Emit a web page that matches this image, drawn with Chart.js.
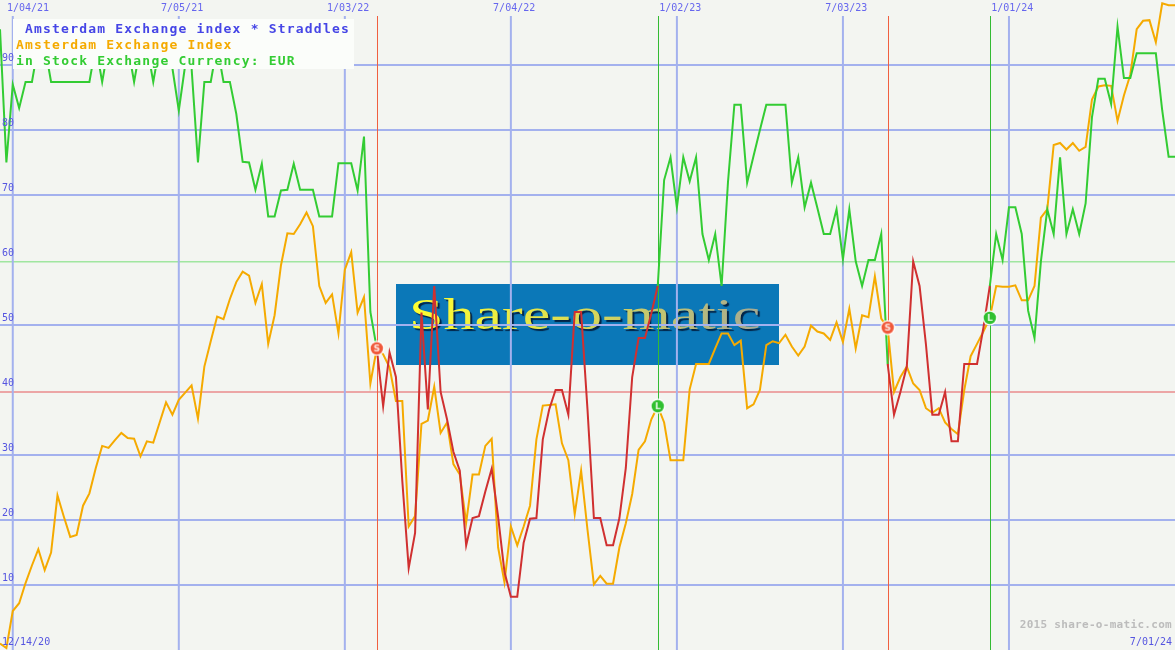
<!DOCTYPE html>
<html>
<head>
<meta charset="utf-8">
<script src="https://cdn.jsdelivr.net/npm/chart.js@4.4.1/dist/chart.umd.min.js"></script>
<style>
  html, body { margin: 0; padding: 0; background: #f3f5f1; overflow: hidden; }
  #wrap { width: 1175px; height: 650px; position: relative; }
</style>
</head>
<body>
<div id="wrap"><canvas id="chart"></canvas></div>
<script>
// weekly closes, week 0 = first column of the chart
const indexValues = [
  1.0, 0.3, 6.0, 7.2, 10.3, 13.0, 15.5, 12.3, 15.0, 23.8,
  20.5, 17.4, 17.7, 22.2, 24.1, 28.0, 31.4, 31.1, 32.3, 33.4,
  32.6, 32.5, 29.8, 32.1, 31.9, 35.0, 38.1, 36.2, 38.5, 39.6,
  40.7, 35.6, 43.6, 47.5, 51.3, 50.9, 54.0, 56.6, 58.2, 57.6,
  53.4, 56.3, 47.1, 51.5, 59.2, 64.1, 64.0, 65.5, 67.3, 65.2,
  56.0, 53.4, 54.7, 48.7, 58.5, 61.2, 51.9, 54.3, 41.0, 46.4,
  45.5, 43.5, 38.3, 38.3, 19.0, 20.6, 34.8, 35.3, 40.5, 33.4,
  35.0, 28.6, 27.0, 19.6, 27.0, 27.0, 31.4, 32.5, 15.8, 10.4,
  19.0, 16.1, 19.0, 22.2, 32.4, 37.6, 37.7, 37.8, 31.8, 29.2,
  20.9, 27.6, 18.5, 10.1, 11.4, 10.2, 10.2, 15.8, 19.5, 24.0,
  30.8, 32.1, 35.5, 37.5, 35.0, 29.2, 29.2, 29.2, 40.1, 44.0,
  44.0, 44.0, 46.4, 48.7, 48.7, 46.9, 47.6, 37.2, 37.8, 40.0,
  46.9, 47.5, 47.2, 48.5, 46.7, 45.3, 46.7, 49.9, 49.0, 48.7,
  47.7, 50.4, 47.4, 52.5, 46.4, 51.5, 51.2, 57.5, 51.0, 49.6,
  39.7, 42.0, 43.6, 41.0, 40.0, 37.2, 36.5, 37.2, 35.0, 34.0,
  33.2, 40.0, 45.2, 47.1, 49.0, 51.1, 56.0, 55.9, 55.9, 56.1,
  53.8, 53.8, 56.0, 66.5, 67.8, 77.7, 78.0, 77.0, 78.0, 76.8,
  77.4, 84.7, 86.7, 86.9, 86.8, 81.4, 85.3, 88.5, 95.5, 96.8,
  96.9, 93.5, 99.5, 99.2, 99.2
];

// straddle line, green while flat, red while a position is open
const straddleOut1 = [
  95.5, 75, 87, 83.4, 87.4, 87.4, 93, 93, 87.4, 87.4,
  87.4, 87.4, 87.4, 87.4, 87.4, 93, 87.4, 93, 93, 93,
  93, 87.4, 93, 93, 87.4, 93, 93, 89.5, 83, 90,
  89.5, 75, 87.4, 87.4, 93, 87.4, 87.4, 82.5, 75.1, 75,
  70.8, 74.8, 66.7, 66.7, 70.7, 70.8, 74.8, 70.8, 70.8, 70.8,
  66.7, 66.7, 66.7, 74.9, 74.9, 74.9, 70.7, 79, 52, 46.4
];
const straddleIn1 = [
  46.4, 37.5, 45.8, 42, 26, 12.6, 18, 51.9, 37, 56,
  39.7, 35.5, 30.5, 27.6, 16.1, 20.3, 20.6, 24.4, 27.9, 20.5,
  12, 8.2, 8.2, 16.5, 20.2, 20.3, 32.4, 37, 40, 40,
  36.2, 52, 52, 37, 20.3, 20.3, 16.1, 16.1, 20.3, 28,
  42, 48, 48, 51.8, 56
];
const straddleOut2 = [
  56, 72.3, 75.8, 68.1, 75.8, 72.1, 75.8, 64, 60, 64,
  56, 72, 83.9, 83.9, 71.9, 76, 80, 83.9, 83.9, 83.9,
  83.9, 71.9, 75.8, 68.1, 71.9, 68, 64, 64, 67.8, 60.1,
  67.8, 59.8, 56, 60, 60, 64, 44
];
const straddleIn2 = [
  44, 36.2, 39.7, 43.6, 59.8, 56, 47, 36.2, 36.2, 39.7,
  32.1, 32.1, 44, 44, 44, 49.6, 56
];
const straddleOut3 = [
  56, 64, 60, 68.1, 68.1, 64, 52.2, 48, 59.8, 67.8,
  64, 75.8, 64, 67.8, 64, 68.7, 82, 87.9, 87.9, 84,
  95.9, 88, 88, 91.8, 91.8, 91.8, 91.8, 83, 75.9, 75.9
];
const outStarts = [0, 103, 155];
const inStarts = [59, 139];

const sellWeeks = [59, 139];
const buyWeeks = [103, 155];

const gridWeeks = [2, 28, 54, 80, 106, 132, 158];
const gridLabels = ['1/04/21', '7/05/21', '1/03/22', '7/04/22', '1/02/23', '7/03/23', '1/01/24'];
const yTicks = [10, 20, 30, 40, 50, 60, 70, 80, 90];
const blueLines = [10, 20, 30, 50, 70, 80, 90];
const upperLevel = 59.75;
const lowerLevel = 39.7;
const firstDate = '12/14/20';
const lastDate = '7/01/24';
const lastWeek = 184;

const legendLines = [
  'Amsterdam Exchange index * Straddles',
  'Amsterdam Exchange Index',
  'in Stock Exchange Currency: EUR'
];

function toPoints(values, start) {
  return values.map((v, i) => ({ x: start + i, y: v }));
}

function makeMarker(fill, letter) {
  const c = document.createElement('canvas');
  c.width = 16; c.height = 16;
  const g = c.getContext('2d');
  g.fillStyle = '#ffffff';
  g.beginPath(); g.arc(8, 8, 7.5, 0, Math.PI * 2); g.fill();
  g.fillStyle = fill;
  g.beginPath(); g.arc(8, 8, 6.2, 0, Math.PI * 2); g.fill();
  g.fillStyle = 'rgba(255,255,255,0.85)';
  g.font = 'bold 9px "DejaVu Sans"';
  g.textAlign = 'center';
  g.textBaseline = 'middle';
  g.fillText(letter, 8, 8.5);
  return c;
}
const sellIcon = makeMarker('#f0583a', 'S');
const buyIcon = makeMarker('#30c030', 'L');

const datasets = [];
datasets.push({
  data: sellWeeks.map(w => ({ x: w, y: indexValues[w] })),
  showLine: false, pointStyle: sellIcon, pointRadius: 8, order: 0
});
datasets.push({
  data: buyWeeks.map(w => ({ x: w, y: indexValues[w] })),
  showLine: false, pointStyle: buyIcon, pointRadius: 8, order: 0
});
[straddleIn1, straddleIn2].forEach((vals, i) => {
  datasets.push({
    data: toPoints(vals, inStarts[i]),
    borderColor: '#d03030', borderWidth: 2, pointRadius: 0, order: 1
  });
});
[straddleOut1, straddleOut2, straddleOut3].forEach((vals, i) => {
  datasets.push({
    data: toPoints(vals, outStarts[i]),
    borderColor: '#33cc33', borderWidth: 2, pointRadius: 0, order: 2
  });
});
datasets.push({
  data: toPoints(indexValues, 0),
  borderColor: '#f5aa00', borderWidth: 2, pointRadius: 0, order: 3
});

const backdrop = {
  id: 'backdrop',
  beforeDatasetsDraw(chart) {
    const ctx = chart.ctx;
    const xs = chart.scales.x, ys = chart.scales.y;
    const W = chart.width, H = chart.height;
    ctx.save();
    ctx.fillStyle = '#f3f5f1';
    ctx.fillRect(0, 0, W, H);

    // watermark
    ctx.fillStyle = '#0b78b8';
    ctx.fillRect(396, 284, 383, 81);
    ctx.save();
    ctx.translate(409, 329);
    ctx.scale(1.41, 1);
    ctx.font = '44px "Liberation Serif"';
    const grad = ctx.createLinearGradient(0, -30, 250, 0);
    grad.addColorStop(0, '#ffff30');
    grad.addColorStop(0.4, '#e2e24c');
    grad.addColorStop(1, '#a4a894');
    ctx.shadowColor = 'rgba(0,20,50,0.85)';
    ctx.shadowOffsetX = 2; ctx.shadowOffsetY = 2; ctx.shadowBlur = 1;
    ctx.fillStyle = grad;
    ctx.fillText('Share-o-matic', 0, 0);
    ctx.restore();

    // horizontal grid
    ctx.lineWidth = 2;
    ctx.strokeStyle = '#a3b1ee';
    blueLines.forEach(t => {
      const y = ys.getPixelForValue(t);
      ctx.beginPath(); ctx.moveTo(0, y); ctx.lineTo(W, y); ctx.stroke();
    });
    ctx.lineWidth = 1.5;
    ctx.strokeStyle = '#a0e6a0';
    let y = ys.getPixelForValue(upperLevel);
    ctx.beginPath(); ctx.moveTo(0, y); ctx.lineTo(W, y); ctx.stroke();
    ctx.lineWidth = 2;
    ctx.strokeStyle = '#eca6a6';
    y = ys.getPixelForValue(lowerLevel);
    ctx.beginPath(); ctx.moveTo(0, y); ctx.lineTo(W, y); ctx.stroke();

    // vertical grid
    ctx.lineWidth = 2;
    ctx.strokeStyle = '#a3b1ee';
    gridWeeks.forEach(w => {
      const x = xs.getPixelForValue(w);
      ctx.beginPath(); ctx.moveTo(x, 16); ctx.lineTo(x, H); ctx.stroke();
    });
    ctx.lineWidth = 1;
    sellWeeks.forEach(w => {
      const x = Math.round(xs.getPixelForValue(w)) + 0.5;
      ctx.strokeStyle = '#f06040';
      ctx.beginPath(); ctx.moveTo(x, 16); ctx.lineTo(x, H); ctx.stroke();
    });
    buyWeeks.forEach(w => {
      const x = Math.round(xs.getPixelForValue(w)) + 0.5;
      ctx.strokeStyle = '#33bb33';
      ctx.beginPath(); ctx.moveTo(x, 16); ctx.lineTo(x, H); ctx.stroke();
    });
    ctx.restore();
  },
  afterDraw(chart) {
    const ctx = chart.ctx;
    const xs = chart.scales.x, ys = chart.scales.y;
    ctx.save();
    // legend box
    ctx.fillStyle = '#fbfdfa';
    ctx.fillRect(13, 19, 341, 50);
    ctx.font = 'bold 13px "DejaVu Sans Mono"';
    ctx.letterSpacing = '1.2px';
    ctx.textBaseline = 'alphabetic';
    ctx.textAlign = 'left';
    ctx.fillStyle = '#4646e6';
    ctx.fillText(legendLines[0], 25, 32.5);
    ctx.fillStyle = '#f5aa00';
    ctx.fillText(legendLines[1], 16, 48.5);
    ctx.fillStyle = '#33cc33';
    ctx.fillText(legendLines[2], 16, 64.5);

    // date labels on top
    ctx.letterSpacing = '0px';
    ctx.font = '10px "DejaVu Sans Mono"';
    ctx.textBaseline = 'middle';
    ctx.fillStyle = '#6666ee';
    gridWeeks.forEach((w, i) => {
      const x = xs.getPixelForValue(w) + 3.3;
      const tw = ctx.measureText(gridLabels[i]).width;
      const left = Math.max(7, x - tw / 2);
      ctx.fillText(gridLabels[i], left, 8);
    });

    // value labels
    ctx.fillStyle = '#5555e0';
    yTicks.forEach(t => {
      ctx.fillText(String(t), 2, ys.getPixelForValue(t) - 7);
    });

    // bottom texts
    ctx.fillText(firstDate, 2, 642);
    ctx.textAlign = 'right';
    ctx.fillText(lastDate, 1172, 642);
    ctx.font = 'bold 11px "DejaVu Sans Mono"';
    ctx.letterSpacing = '0.3px';
    ctx.fillStyle = '#bcbcbc';
    ctx.fillText('2015 share-o-matic.com', 1172, 625);
    ctx.restore();
  }
};

new Chart(document.getElementById('chart').getContext('2d'), {
  type: 'line',
  data: { datasets: datasets },
  options: {
    responsive: true,
    maintainAspectRatio: false,
    animation: false,
    layout: { padding: 0, autoPadding: false },
    elements: { line: { tension: 0, fill: false } },
    scales: {
      x: { type: 'linear', min: 0, max: lastWeek, display: false },
      y: { min: 0, max: 100, display: false }
    },
    plugins: {
      legend: { display: false },
      tooltip: { enabled: false }
    }
  },
  plugins: [backdrop]
});
</script>
</body>
</html>
